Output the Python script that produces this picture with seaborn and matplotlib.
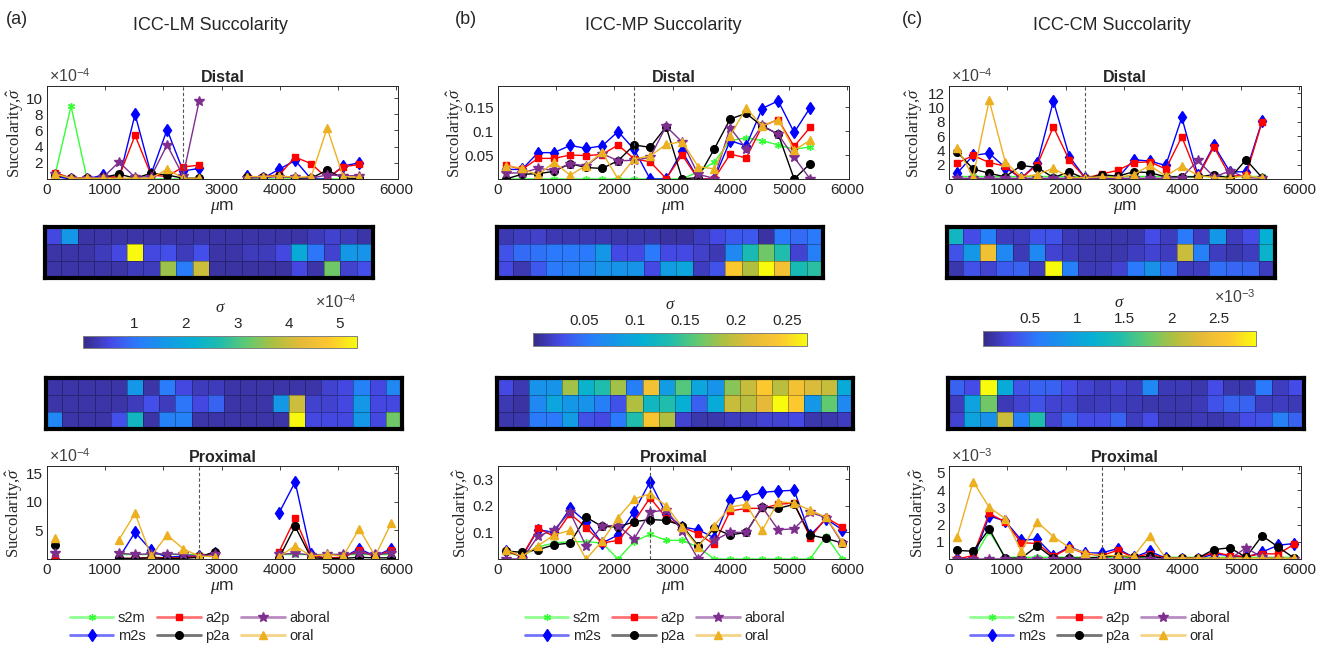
import numpy as np
import matplotlib
matplotlib.use("Agg")
import matplotlib.pyplot as plt
from matplotlib.colors import LinearSegmentedColormap
from matplotlib.lines import Line2D
from matplotlib.ticker import FormatStrFormatter
import seaborn as sns

nan = np.nan

# window centres along the tissue (um)
x_distal = [138, 413, 688, 963, 1238, 1513, 1788, 2063, 2338, 2613,
            2888, 3163, 3438, 3713, 3988, 4263, 4538, 4813, 5088, 5363]
x_proximal = x_distal + [5638, 5913]

labels = ["s2m", "m2s", "a2p", "p2a", "aboral", "oral"]

# ---- (a) ICC-LM, distal (x1e-4)
s2m_a_d = [0.5, 9.0, 0.0, 0.1, 0.0, 0.0, 0.0, 0.0, 0.0, 0.0, nan, nan, 0.0, 0.0, 0.0, 0.0, 0.0, 0.0, 0.0, 0.0]
m2s_a_d = [0.3, 0.0, 0.0, 0.5, 0.0, 8.0, 0.6, 6.1, 1.0, 1.3, nan, nan, 0.4, 0.1, 1.2, 2.3, 0.0, 0.0, 1.6, 2.0]
a2p_a_d = [0.8, 0.1, 0.1, 0.2, 0.3, 5.4, 0.5, 0.3, 1.5, 1.7, nan, nan, 0.2, 0.3, 0.5, 2.7, 1.9, 0.1, 1.5, 1.8]
p2a_a_d = [0.5, 0.1, 0.1, 0.2, 0.6, 0.1, 0.7, 0.5, 0.1, 0.1, nan, nan, 0.2, 0.2, 0.4, 0.1, 0.1, 1.1, 0.1, 0.1]
aboral_a_d = [0.6, 0.1, 0.1, 0.2, 2.1, 0.2, 0.3, 4.2, 0.4, 9.6, nan, nan, 0.1, 0.2, 0.3, 0.2, 0.1, 0.5, 0.4, 0.4]
oral_a_d = [0.6, 0.1, 0.1, 0.1, 0.1, 0.1, 0.1, 1.2, 0.1, 0.1, nan, nan, 0.3, 0.3, 0.4, 0.2, 0.3, 6.3, 0.3, 0.2]

# ---- (a) ICC-LM, proximal (x1e-4)
s2m_a_p = [1.0, nan, nan, nan, 0.9, 0.9, 0.9, 0.9, 0.9, 0.9, 0.9, nan, nan, nan, 0.9, 0.9, 0.9, 0.9, 0.9, 0.9, 0.9, 0.9]
m2s_a_p = [0.0, nan, nan, nan, 0.2, 4.7, 1.5, 0.3, 0.5, 0.5, 1.0, nan, nan, nan, 8.1, 13.5, 0.8, 0.0, 0.3, 1.8, 0.5, 1.8]
a2p_a_p = [0.1, nan, nan, nan, 0.1, 0.1, 0.3, 0.2, 0.2, 0.5, 1.0, nan, nan, nan, 1.3, 7.1, 0.5, 0.2, 0.3, 1.5, 0.4, 1.6]
p2a_a_p = [2.4, nan, nan, nan, 0.1, 0.1, 0.2, 0.1, 0.1, 0.3, 1.3, nan, nan, nan, 0.2, 5.7, 0.2, 0.1, 0.1, 0.3, 0.2, 0.2]
aboral_a_p = [1.0, nan, nan, nan, 1.0, 0.8, 0.9, 0.9, 0.8, 0.5, 0.8, nan, nan, nan, 0.8, 1.0, 0.7, 0.8, 0.8, 1.0, 0.8, 1.0]
oral_a_p = [3.6, nan, nan, nan, 3.4, 8.0, 0.5, 4.2, 1.8, 0.5, 0.4, nan, nan, nan, 0.4, 2.3, 0.5, 0.8, 0.5, 5.3, 0.5, 6.3]

# ---- (b) ICC-MP, distal
s2m_b_d = [0, 0, 0, 0, 0, 0, 0, 0, 0, 0, 0, 0, 0.015, 0.035, 0.08, 0.086, 0.08, 0.071, 0.062, 0.067]
m2s_b_d = [0.02, 0.02, 0.055, 0.055, 0.07, 0.064, 0.069, 0.099, 0.062, 0.0, 0.0, 0.058, 0.0, 0.0, 0.08, 0.069, 0.147, 0.163, 0.097, 0.149]
a2p_b_d = [0.029, 0.02, 0.043, 0.043, 0.05, 0.049, 0.051, 0.071, 0.042, 0.036, 0.001, 0.05, 0.0, 0.0, 0.052, 0.044, 0.11, 0.124, 0.068, 0.108]
p2a_b_d = [0.0, 0.01, 0.011, 0.016, 0.032, 0.024, 0.022, 0.038, 0.071, 0.066, 0.109, 0.0, 0.003, 0.062, 0.125, 0.137, 0.11, 0.094, 0.0, 0.032]
aboral_b_d = [0.012, 0.013, 0.022, 0.018, 0.032, 0.027, 0.053, 0.038, 0.039, 0.045, 0.11, 0.077, 0.01, 0.001, 0.107, 0.063, 0.112, 0.093, 0.045, 0.0]
oral_b_d = [0.028, 0.022, 0.008, 0.035, 0.008, 0.028, 0.056, 0.0, 0.042, 0.048, 0.072, 0.078, 0.026, 0.021, 0.09, 0.148, 0.111, 0.124, 0.06, 0.081]

# ---- (b) ICC-MP, proximal
s2m_b_p = [0.025, 0.01, 0.045, 0.06, 0.065, 0.065, 0.06, 0.0, 0.065, 0.093, 0.07, 0.07, 0.045, 0.0, 0.0, 0.0, 0.0, 0.0, 0.0, 0.0, 0.085, 0.0]
m2s_b_p = [0.03, 0.01, 0.11, 0.10, 0.19, 0.14, 0.06, 0.09, 0.178, 0.29, 0.17, 0.12, 0.11, 0.08, 0.222, 0.235, 0.25, 0.255, 0.258, 0.09, 0.15, 0.11]
a2p_b_p = [0.03, 0.01, 0.115, 0.085, 0.17, 0.118, 0.06, 0.07, 0.14, 0.23, 0.155, 0.12, 0.095, 0.055, 0.18, 0.19, 0.19, 0.205, 0.21, 0.08, 0.155, 0.12]
p2a_b_p = [0.03, 0.025, 0.035, 0.053, 0.06, 0.157, 0.122, 0.12, 0.14, 0.148, 0.145, 0.125, 0.05, 0.115, 0.09, 0.1, 0.195, 0.19, 0.205, 0.09, 0.077, 0.06]
aboral_b_p = [0.0, 0.0, 0.085, 0.11, 0.175, 0.048, 0.125, 0.125, 0.075, 0.175, 0.185, 0.105, 0.0, 0.07, 0.1, 0.1, 0.195, 0.11, 0.113, 0.175, 0.155, 0.06]
oral_b_p = [0.035, 0.01, 0.05, 0.09, 0.108, 0.0, 0.067, 0.155, 0.225, 0.245, 0.2, 0.12, 0.045, 0.125, 0.195, 0.205, 0.107, 0.215, 0.21, 0.183, 0.157, 0.065]

# ---- (c) ICC-CM, distal (x1e-4)
s2m_c_d = [0.4, 0.4, 0.4, 0.4, 0.4, 0.4, 0.4, 0.4, 0.4, 0.4, 0.4, 0.4, 0.4, 0.4, 0.4, 0.4, 0.4, 0.4, 0.4, 0.4]
m2s_c_d = [0.8, 3.3, 3.6, 1.6, 0.1, 2.2, 10.9, 3.1, 0.1, 0.1, 0.1, 2.7, 2.5, 1.9, 8.6, 0.5, 4.7, 1.0, 1.0, 8.1]
a2p_c_d = [2.2, 3.3, 2.3, 1.8, 0.1, 2.0, 7.3, 2.6, 0.1, 0.7, 1.2, 2.3, 2.4, 1.4, 5.9, 0.3, 4.5, 0.4, 0.5, 8.0]
p2a_c_d = [3.8, 1.4, 0.8, 0.3, 1.9, 1.6, 0.2, 1.0, 0.0, 0.6, 0.4, 1.0, 0.9, 0.3, 0.3, 0.3, 0.6, 0.1, 2.7, 0.2]
aboral_c_d = [0.1, 0.1, 0.1, 0.1, 0.1, 0.1, 0.1, 0.1, 0.1, 0.1, 0.1, 0.1, 0.1, 0.1, 0.2, 2.6, 0.3, 1.1, 0.2, 0.1]
oral_c_d = [4.4, 0.3, 11.0, 2.4, 0.3, 0.6, 1.5, 0.2, 0.2, 0.3, 0.2, 0.6, 1.9, 0.4, 1.8, 0.5, 0.2, 0.1, 0.5, 0.1]

# ---- (c) ICC-CM, proximal (x1e-3)
s2m_c_p = [0.0, 0.0, 1.6, 0.1, 0.1, 0.1, 0.1, 0.1, 0.1, 0.1, 0.1, 0.1, 0.1, 0.1, 0.1, 0.1, 0.1, 0.1, 0.1, 0.1, 0.1, 0.1]
m2s_c_p = [0.0, 0.0, 2.5, 2.2, 1.1, 1.15, 0.2, 0.7, 0.35, 0.35, 0.6, 0.1, 0.45, 0.05, 0.0, 0.0, 0.3, 0.2, 0.1, 0.4, 0.8, 0.9]
a2p_c_p = [0.0, 0.2, 2.65, 2.15, 0.95, 0.9, 0.15, 0.65, 0.3, 0.2, 0.5, 0.1, 0.3, 0.05, 0.05, 0.05, 0.4, 0.2, 0.15, 0.3, 0.3, 0.85]
p2a_c_p = [0.5, 0.45, 1.75, 0.05, 0.05, 0.75, 0.05, 0.05, 0.05, 0.1, 0.2, 0.1, 0.15, 0.05, 0.05, 0.05, 0.55, 0.65, 0.1, 1.35, 0.7, 0.05]
aboral_c_p = [0.0, 0.0, 0.0, 0.0, 0.0, 0.0, 0.0, 0.0, 0.0, 0.0, 0.0, 0.0, 0.0, 0.0, 0.0, 0.0, 0.0, 0.0, 0.65, 0.1, 0.0, 0.0]
oral_c_p = [1.25, 4.5, 3.0, 2.35, 0.45, 2.15, 1.3, 0.65, 0.35, 0.2, 0.2, 0.15, 1.35, 0.05, 0.05, 0.05, 0.05, 0.05, 0.05, 0.05, 0.05, 0.05]

# ---- succolarity maps (3 rows x windows), in colorbar units
heat_a_d = [[0.5, 1.6, 0.2, 0.2, 0.2, 0.2, 0.2, 0.2, 0.2, 0.2, 0.2, 0.2, 0.2, 0.2, 0.2, 0.2, 0.3, 0.4, 0.3, 0.2],
            [0.2, 0.2, 0.2, 0.3, 0.5, 5.3, 0.5, 0.6, 0.3, 0.6, 0.2, 0.2, 0.3, 0.3, 0.5, 2.0, 1.0, 0.4, 1.6, 1.5],
            [0.2, 0.2, 0.2, 0.2, 0.2, 0.3, 0.3, 3.6, 1.1, 4.0, 0.15, 0.15, 0.15, 0.15, 0.15, 0.5, 0.2, 3.3, 0.4, 0.6]]
heat_a_p = [[0.2, 0.2, 0.2, 0.2, 0.2, 1.6, 0.2, 1.1, 0.5, 0.3, 0.3, 0.2, 0.2, 0.2, 0.2, 0.2, 0.2, 0.4, 0.5, 1.2, 0.5, 1.3],
            [0.2, 0.2, 0.2, 0.2, 0.2, 0.3, 0.6, 0.3, 1.0, 0.5, 0.8, 0.2, 0.2, 0.2, 1.6, 4.0, 0.4, 0.4, 0.5, 1.6, 0.5, 0.5],
            [1.3, 0.2, 0.2, 0.2, 0.6, 2.4, 0.2, 1.2, 1.2, 0.2, 0.2, 0.2, 0.2, 0.2, 0.2, 5.3, 0.5, 0.5, 0.5, 1.6, 0.5, 3.3]]
heat_b_d = [[0.013, 0.016, 0.019, 0.013, 0.013, 0.013, 0.013, 0.011, 0.011, 0.011, 0.008, 0.008, 0.016, 0.027, 0.035, 0.035, 0.008, 0.054, 0.046, 0.054],
            [0.032, 0.046, 0.049, 0.054, 0.054, 0.054, 0.081, 0.027, 0.027, 0.054, 0.027, 0.027, 0.019, 0.013, 0.068, 0.13, 0.167, 0.135, 0.022, 0.059],
            [0.027, 0.013, 0.035, 0.054, 0.059, 0.065, 0.076, 0.076, 0.076, 0.027, 0.086, 0.097, 0.016, 0.032, 0.243, 0.189, 0.27, 0.23, 0.13, 0.14]]
heat_b_p = [[0.027, 0.013, 0.076, 0.076, 0.184, 0.113, 0.135, 0.184, 0.059, 0.23, 0.086, 0.157, 0.097, 0.076, 0.176, 0.2, 0.243, 0.194, 0.23, 0.21, 0.2, 0.103],
            [0.013, 0.008, 0.068, 0.095, 0.081, 0.076, 0.059, 0.032, 0.189, 0.122, 0.135, 0.108, 0.04, 0.103, 0.2, 0.194, 0.216, 0.27, 0.243, 0.081, 0.162, 0.068],
            [0.011, 0.011, 0.054, 0.054, 0.086, 0.032, 0.027, 0.054, 0.135, 0.238, 0.189, 0.022, 0.011, 0.011, 0.016, 0.016, 0.022, 0.022, 0.027, 0.011, 0.011, 0.016]]
heat_c_d = [[1.3, 0.3, 0.64, 0.17, 0.17, 0.35, 0.35, 0.15, 0.12, 0.12, 0.12, 0.12, 0.3, 0.17, 0.58, 0.17, 0.87, 0.17, 0.3, 1.16],
            [0.35, 0.87, 2.46, 0.72, 0.15, 0.72, 0.23, 0.17, 0.12, 0.12, 0.12, 0.17, 0.23, 0.17, 2.17, 0.64, 0.17, 0.12, 0.17, 1.22],
            [0.12, 0.35, 0.23, 0.4, 0.44, 0.17, 2.9, 0.64, 0.15, 0.15, 0.23, 0.58, 0.81, 0.52, 0.17, 0.17, 0.52, 0.46, 0.46, 0.17]]
heat_c_p = [[0.44, 0.3, 2.9, 1.1, 0.35, 0.44, 0.44, 0.3, 0.23, 0.17, 0.23, 0.17, 0.72, 0.15, 0.15, 0.12, 0.3, 0.12, 0.12, 0.58, 0.17, 0.3],
            [0.17, 1.0, 1.8, 0.15, 0.23, 0.35, 0.23, 0.23, 0.15, 0.17, 0.17, 0.15, 0.12, 0.12, 0.12, 0.15, 0.35, 0.44, 0.44, 0.17, 0.17, 0.15],
            [0.23, 1.0, 0.81, 2.17, 0.64, 1.45, 0.23, 0.44, 0.3, 0.3, 0.44, 0.17, 0.3, 0.12, 0.12, 0.15, 0.12, 0.17, 0.3, 0.35, 0.64, 0.44]]

colors = {"s2m": (0.2, 1.0, 0.2), "m2s": (0.0, 0.0, 1.0), "a2p": (1.0, 0.0, 0.0),
          "p2a": (0.0, 0.0, 0.0), "aboral": (0.49, 0.18, 0.56), "oral": (0.93, 0.69, 0.13)}
markers = {"s2m": ((6, 2, 0), 5), "m2s": ("d", 6.5), "a2p": ("s", 4.5),
           "p2a": ("o", 5.5), "aboral": ("*", 7.5), "oral": ("^", 6)}

parula = LinearSegmentedColormap.from_list("parula", [
    (0.00, (0.208, 0.166, 0.529)), (0.10, (0.272, 0.290, 0.900)),
    (0.20, (0.165, 0.480, 0.985)), (0.30, (0.080, 0.595, 0.905)),
    (0.40, (0.020, 0.690, 0.830)), (0.50, (0.120, 0.740, 0.680)),
    (0.60, (0.380, 0.790, 0.440)), (0.70, (0.690, 0.750, 0.250)),
    (0.80, (0.900, 0.730, 0.220)), (0.90, (0.990, 0.780, 0.190)),
    (1.00, (0.976, 0.983, 0.054))])

panels = [
    dict(tag="(a)", title="ICC-LM Succolarity", tag_x=17, title_x=210,
         distal=[s2m_a_d, m2s_a_d, a2p_a_d, p2a_a_d, aboral_a_d, oral_a_d],
         proximal=[s2m_a_p, m2s_a_p, a2p_a_p, p2a_a_p, aboral_a_p, oral_a_p],
         d_ylim=11.5, d_yticks=[2, 4, 6, 8, 10], d_exp="-4", d_lab=-0.06,
         p_ylim=16.3, p_yticks=[5, 10, 15], p_exp="-4", p_lab=-0.064,
         heat_d=heat_a_d, heat_p=heat_a_p, vmax=5.33, cb_ticks=[1, 2, 3, 4, 5], cb_exp="-4",
         line=(47, 398), hd=(45, 373), hp=(46, 402), cb=(83, 357, 336, 348), leg_x=200),
    dict(tag="(b)", title="ICC-MP Succolarity", tag_x=466, title_x=663,
         distal=[s2m_b_d, m2s_b_d, a2p_b_d, p2a_b_d, aboral_b_d, oral_b_d],
         proximal=[s2m_b_p, m2s_b_p, a2p_b_p, p2a_b_p, aboral_b_p, oral_b_p],
         d_ylim=0.194, d_yticks=[0.05, 0.1, 0.15], d_exp=None, d_lab=-0.09,
         p_ylim=0.349, p_yticks=[0.1, 0.2, 0.3], p_exp=None, p_lab=-0.074,
         heat_d=heat_b_d, heat_p=heat_b_p, vmax=0.27, cb_ticks=[0.05, 0.1, 0.15, 0.2, 0.25], cb_exp=None,
         line=(498, 849), hd=(497, 823), hp=(497, 853), cb=(533, 807, 333, 346), leg_x=655),
    dict(tag="(c)", title="ICC-CM Succolarity", tag_x=912, title_x=1112,
         distal=[s2m_c_d, m2s_c_d, a2p_c_d, p2a_c_d, aboral_c_d, oral_c_d],
         proximal=[s2m_c_p, m2s_c_p, a2p_c_p, p2a_c_p, aboral_c_p, oral_c_p],
         d_ylim=13.0, d_yticks=[2, 4, 6, 8, 10, 12], d_exp="-4", d_lab=-0.068,
         p_ylim=5.4, p_yticks=[1, 2, 3, 4, 5], p_exp="-3", p_lab=-0.056,
         heat_d=heat_c_d, heat_p=heat_c_p, vmax=2.9, cb_ticks=[0.5, 1, 1.5, 2, 2.5], cb_exp="-3",
         line=(949, 1301), hd=(947, 1275), hp=(948, 1304), cb=(983, 1256, 331, 346), leg_x=1100),
]

sns.set_style("white")
plt.rcParams["font.family"] = ["Liberation Sans", "DejaVu Sans"]
plt.rcParams["mathtext.fontset"] = "custom"
plt.rcParams["mathtext.rm"] = "Liberation Sans"
plt.rcParams["mathtext.it"] = "Liberation Serif:italic"

W, H = 1320, 658
fig = plt.figure(figsize=(W / 100, H / 100), dpi=100)


def rect(x0, x1, y0, y1):
    return [x0 / W, 1 - y1 / H, (x1 - x0) / W, (y1 - y0) / H]


def line_panel(ax, x, series, ymax, yticks, exp, name, xv, labx):
    for lab, y in zip(labels, series):
        m, ms = markers[lab]
        ax.plot(x, y, color=colors[lab], lw=1, marker=m, ms=ms,
                mfc=colors[lab], mec=colors[lab], mew=1)
    ax.axvline(xv, color="#555555", lw=0.8, ls=(0, (3, 2)))
    ax.set_xlim(0, 6030)
    ax.set_ylim(0, ymax)
    ax.set_xticks(range(0, 7000, 1000))
    ax.set_yticks(yticks)
    ax.yaxis.set_major_formatter(FormatStrFormatter("%g"))
    for s in ax.spines.values():
        s.set_visible(True)
        s.set_color("#262626")
        s.set_linewidth(0.7)
    ax.tick_params(direction="in", length=3, width=0.6, top=True, right=True,
                   labelsize=11, colors="#262626", pad=3)
    ax.set_title(name, fontsize=11.5, fontweight="bold", pad=3)
    ax.set_xlabel(r"$\mu$m", fontsize=12.5, labelpad=1)
    ax.set_ylabel(r"Succolarity,$\hat{\sigma}$", fontsize=12,
                  family="Liberation Serif", color="#262626")
    ax.yaxis.set_label_coords(labx, 0.5)
    if exp:
        ax.text(0.005, 1.01, r"$\times10^{%s}$" % exp, transform=ax.transAxes,
                fontsize=11.5, color="#404040", ha="left", va="bottom")


def heat_panel(ax, data, vmax):
    sns.heatmap(np.array(data), ax=ax, cmap=parula, vmin=0, vmax=vmax, cbar=False,
                linewidths=0.6, linecolor=(0, 0, 0, 0.3),
                xticklabels=False, yticklabels=False)
    n = len(data[0])
    ax.set_xticks(np.arange(1, n))
    ax.set_yticks([1, 2])
    ax.tick_params(direction="in", length=4, width=2.4, color="k",
                   top=True, bottom=True, left=True, right=True,
                   labelbottom=False, labelleft=False)
    for s in ax.spines.values():
        s.set_visible(True)
        s.set_color("k")
        s.set_linewidth(3)
    return ax.collections[0]


for p in panels:
    fig.text(p["tag_x"] / W, 1 - 19 / H, p["tag"], fontsize=13, ha="center", va="center")
    fig.text(p["title_x"] / W, 1 - 25 / H, p["title"], fontsize=13, ha="center", va="center")

    ax_d = fig.add_axes(rect(p["line"][0], p["line"][1], 86, 179))
    line_panel(ax_d, x_distal, p["distal"], p["d_ylim"], p["d_yticks"], p["d_exp"],
               "Distal", x_distal[8], p["d_lab"])
    ax_p = fig.add_axes(rect(p["line"][0], p["line"][1], 466, 559))
    line_panel(ax_p, x_proximal, p["proximal"], p["p_ylim"], p["p_yticks"], p["p_exp"],
               "Proximal", x_proximal[9], p["p_lab"])

    ax_hd = fig.add_axes(rect(p["hd"][0], p["hd"][1], 227, 278))
    mesh = heat_panel(ax_hd, p["heat_d"], p["vmax"])
    ax_hp = fig.add_axes(rect(p["hp"][0], p["hp"][1], 378, 429))
    heat_panel(ax_hp, p["heat_p"], p["vmax"])

    cx0, cx1, cy0, cy1 = p["cb"]
    cax = fig.add_axes(rect(cx0, cx1, cy0, cy1))
    cb = fig.colorbar(mesh, cax=cax, orientation="horizontal", ticks=p["cb_ticks"])
    cax.xaxis.set_ticks_position("top")
    cax.xaxis.set_label_position("top")
    cax.xaxis.set_major_formatter(FormatStrFormatter("%g"))
    cax.tick_params(direction="in", length=3, width=0.6, labelsize=11, colors="#262626")
    cb.outline.set_edgecolor("#808080")
    cb.outline.set_linewidth(0.7)
    cb.set_label(r"$\sigma$", fontsize=12, labelpad=4)
    if p["cb_exp"]:
        fig.text(cx1 / W, 1 - (cy0 - 34) / H, r"$\times10^{%s}$" % p["cb_exp"],
                 fontsize=11.5, color="#404040", ha="right", va="center")

    handles = []
    for lab in labels:
        m, ms = markers[lab]
        handles.append(Line2D([], [], color=colors[lab] + (0.55,), lw=2, marker=m, ms=ms,
                              mfc=colors[lab], mec=colors[lab]))
    fig.legend(handles, labels, loc="center", bbox_to_anchor=(p["leg_x"] / W, 1 - 627 / H),
               ncol=3, frameon=False, fontsize=10.5, handlelength=3.0,
               columnspacing=0.8, handletextpad=0.3, labelspacing=0.3)

fig.savefig("out.png", dpi=100)
